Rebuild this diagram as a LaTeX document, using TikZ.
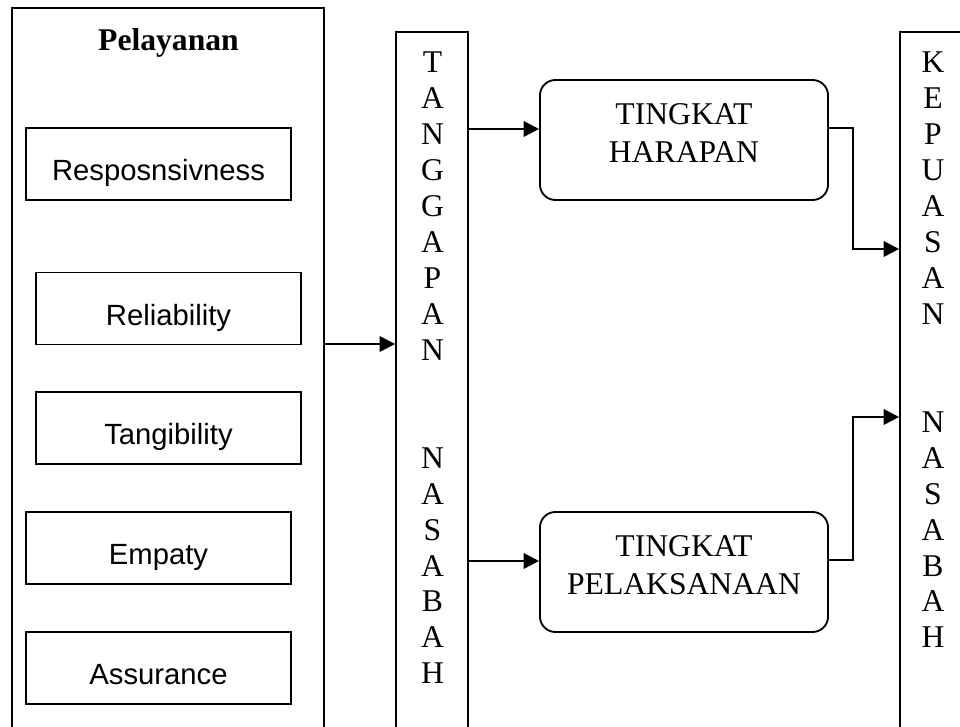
\documentclass[tikz,border=0pt]{standalone}
\usepackage{fontspec}
\setmainfont{Liberation Serif}
\newfontfamily\arialfont{Liberation Sans}
\usetikzlibrary{arrows.meta}

\tikzset{
  outerbox/.style={draw, line width=1.3pt, inner sep=0pt},
  dimbox/.style={draw, line width=1.3pt, minimum width=6.625cm, minimum height=1.8cm, inner sep=0pt,
    text height=24pt, text depth=0.5pt, font=\arialfont\fontsize{20.8}{25}\selectfont},
  colbox/.style={draw, line width=1.3pt, minimum width=1.8cm, minimum height=18.2cm, inner sep=0pt},
  coltext/.style={anchor=north, inner sep=0pt, align=center, font=\fontsize{22.5}{25.57}\selectfont},
  tingkatbox/.style={draw, line width=1.3pt, rounded corners=11pt, minimum width=7.2cm, minimum height=3cm,
    inner sep=0pt, align=center, text depth=10pt, font=\fontsize{22.5}{27.4}\selectfont},
  link/.style={-{Triangle[length=11pt,width=11pt]}, line width=1.6pt}
}

\begin{document}
\begin{tikzpicture}[x=0.025cm, y=-0.025cm]
  \useasboundingbox (0,0) rectangle (960,727);

  % Pelayanan
  \node[outerbox, minimum width=7.8cm, minimum height=18.8cm] (pel) at (168,384) {};
  \node[anchor=base, inner sep=0pt, font=\bfseries\fontsize{22.5}{27}\selectfont] (peltitle) at (168.5,50.7) {Pelayanan};
  \node[dimbox] (resp) at (158.5,164) {Resposnsivness};
  \node[dimbox] (reli) at (168.5,308.5) {Reliability};
  \node[dimbox] (tang) at (168.5,428) {Tangibility};
  \node[dimbox] (empa) at (158.5,548) {Empaty};
  \node[dimbox] (assu) at (158.5,668) {Assurance};

  % Tanggapan nasabah
  \node[colbox] (tangg) at (432,396) {};
  \node[coltext] (tanggtext) at (432.5,51.7) {T\\A\\N\\G\\G\\A\\P\\A\\N\\[51.1pt]N\\A\\S\\A\\B\\A\\H};

  % Tingkat
  \node[tingkatbox] (harapan) at (684,140) {TINGKAT\\HARAPAN};
  \node[tingkatbox] (pelak) at (684,572) {TINGKAT\\PELAKSANAAN};

  % Kepuasan nasabah
  \node[colbox] (kep) at (936,396) {};
  \node[coltext] (keptext) at (933,51.7) {K\\E\\P\\U\\A\\S\\A\\N\\[51.1pt]N\\A\\S\\A\\B\\A\\H};

  % Connectors
  \draw[link] (pel.east |- 0,344) -- (tangg.west |- 0,344);
  \draw[link] (tangg.east |- 0,129) -- (harapan.west |- 0,129);
  \draw[link] (tangg.east |- 0,561) -- (pelak.west |- 0,561);
  \draw[link] (harapan.east |- 0,128) -- ++(24,0) |- (kep.west |- 0,249);
  \draw[link] (pelak.east |- 0,560) -- ++(24,0) |- (kep.west |- 0,417);
\end{tikzpicture}
\end{document}
